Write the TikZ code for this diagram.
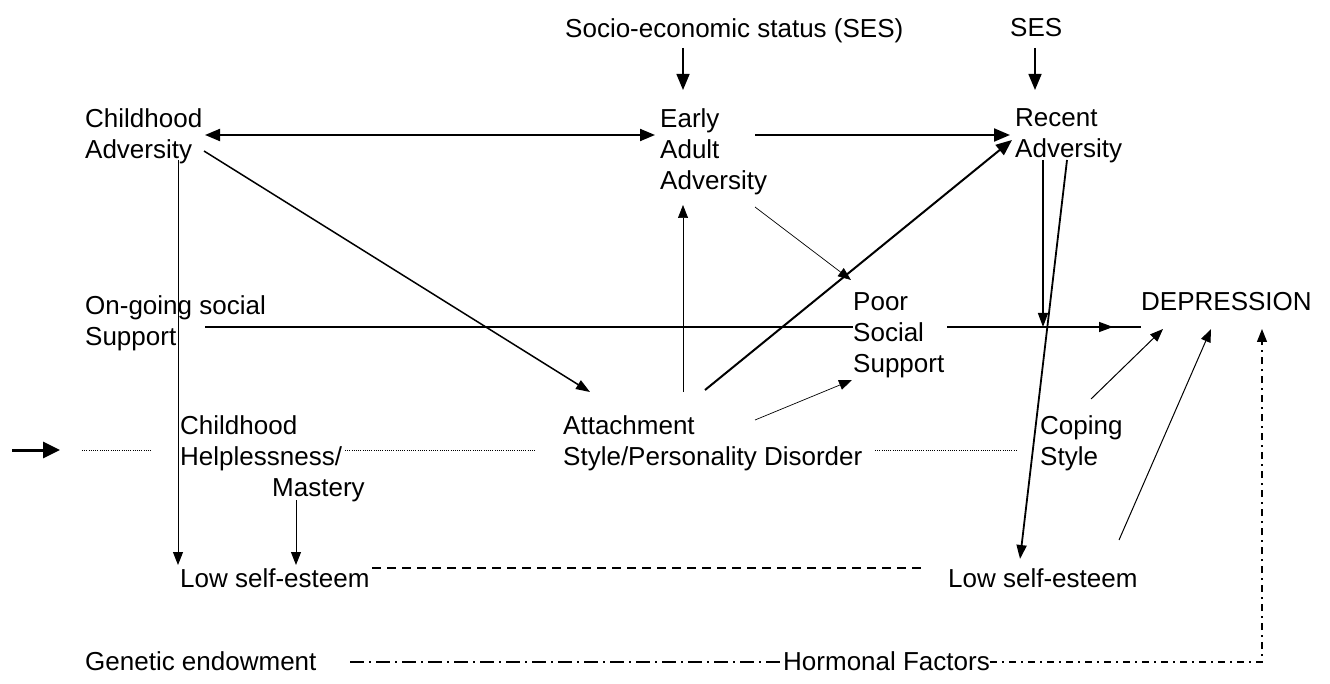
\documentclass[tikz,border=0pt]{standalone}
\usepackage{fontspec}
\setmainfont{Liberation Sans}
\usetikzlibrary{arrows.meta,calc}

\tikzset{
  lbl/.style={anchor=north west, inner sep=0pt, align=left,
              font=\fontsize{26pt}{31pt}\selectfont},
  big/.style={-{Triangle[length=16pt,width=13pt]}},
  med/.style={-{Triangle[length=14pt,width=10pt]}},
  sml/.style={-{Triangle[length=13pt,width=10pt]}},
  timeline/.style={line width=0.8pt, dash pattern=on 1pt off 1.2pt},
  dashlink/.style={line width=1.4pt, dash pattern=on 9pt off 6pt},
  dashdotA/.style={line width=1.3pt, dash pattern=on 14pt off 5pt on 2pt off 5pt},
  dashdotB/.style={line width=1.3pt, dash pattern=on 7pt off 5pt on 2pt off 5pt},
}

\begin{document}
\begin{tikzpicture}[x=1pt, y=-1pt]
\useasboundingbox (0,0) rectangle (1330,684);

% ---- factors ----
\node[lbl] (socio)    at (565,18)  {Socio-economic status (SES)};
\node[lbl] (ses2)     at (1010,18) {SES};
\node[lbl] (child)    at (85,108)  {Childhood\\Adversity};
\node[lbl] (early)    at (660,108) {Early\\Adult\\Adversity};
\node[lbl] (recent)   at (1015,108){Recent\\Adversity};
\node[lbl] (ongoing)  at (85,295)  {On-going social\\Support};
\node[lbl] (poor)     at (853,292) {Poor\\Social\\Support};
\node[lbl] (dep)      at (1141,292){DEPRESSION};
\node[lbl] (helpless) at (180,415) {Childhood\\Helplessness/\\\hspace*{92pt}Mastery};
\node[lbl] (attach)   at (563,415) {Attachment\\Style/Personality Disorder};
\node[lbl] (coping)   at (1040,415){Coping\\Style};
\node[lbl] (lowse1)   at (180,568) {Low self-esteem};
\node[lbl] (lowse2)   at (948,568) {Low self-esteem};
\node[lbl] (genetic)  at (85,651)  {Genetic endowment};
\node[lbl] (hormonal) at (783,651) {Hormonal Factors};

% ---- time line along the developmental row ----
\coordinate (tstart) at (12,450);
\coordinate (tdot)   at (82,450);
\draw[line width=3pt, -{Triangle[length=17pt,width=16pt]}] (tstart) -- ($(tstart)+(48,0)$);
\draw[timeline] (tdot) -- ($(helpless.north west)+(-28,35)$);
\draw[timeline] ($(helpless.north west)+(165,35)$) -- ($(attach.north west)+(-28,35)$);
\draw[timeline] ($(attach.north west)+(312,35)$) -- ($(coping.north west)+(-22,35)$);

% ---- socio-economic status ----
\draw[big, line width=1.5pt] ($(socio.north west)+(118,30)$) -- ($(early.north west)+(23,-18)$);
\draw[big, line width=1.5pt] ($(ses2.north west)+(25,30)$) -- ($(recent.north west)+(20,-18)$);

% ---- adversity chain ----
\draw[{Triangle[length=15pt,width=12pt]}-{Triangle[length=15pt,width=12pt]}, line width=2pt]
  ($(child.north west)+(120,27)$) -- ($(early.north west)+(-5,27)$);
\draw[big, line width=2pt] ($(early.north west)+(95,27)$) -- ($(recent.north west)+(-5,27)$);
\draw[med, line width=1.5pt] ($(child.north west)+(119,43)$) -- ($(attach.north west)+(27,-23)$);
\draw[sml, line width=1pt] ($(child.north west)+(93,52)$) -- ($(lowse1.north west)+(-2,-3)$);
\draw[sml, line width=1pt] ($(helpless.north west)+(116,85)$) -- ($(lowse1.north west)+(116,-3)$);

% ---- early adult adversity ----
\draw[sml, line width=0.7pt] ($(early.north west)+(95,99)$) -- ($(poor.north west)+(-2,-12)$);
\draw[sml, line width=0.7pt] ($(attach.north west)+(120,-23)$) -- ($(early.north west)+(23,97)$);
\draw[big, line width=2pt] ($(attach.north west)+(142,-25)$) -- ($(recent.north west)+(-3,32)$);
\draw[sml, line width=0.7pt] ($(attach.north west)+(192,5)$) -- ($(poor.north west)+(-1,88)$);

% ---- recent adversity ----
\draw[med, line width=1.5pt] ($(recent.north west)+(28,52)$) -- ($(poor.north west)+(190,35)$);
\draw[med, line width=1.8pt] ($(recent.north west)+(52,52)$) -- ($(lowse2.north west)+(72,-9)$);

% ---- social support to depression ----
\draw[line width=1.5pt] ($(ongoing.north west)+(120,32)$) -- ($(poor.north west)+(0,35)$);
\draw[line width=1.5pt] ($(poor.north west)+(94,35)$) -- ($(dep.north west)+(0,35)$);
\draw[med, line width=1.5pt] ($(poor.north west)+(94,35)$) -- ($(dep.north west)+(-28,35)$);

% ---- coping and self-esteem to depression ----
\draw[sml, line width=1pt] ($(coping.north west)+(51,-16)$) -- ($(dep.north west)+(22,37)$);
\draw[sml, line width=1pt] ($(lowse2.north west)+(171,-28)$) -- ($(dep.north west)+(70,37)$);
\draw[dashlink] ($(lowse1.north west)+(192,0)$) -- ($(lowse2.north west)+(-23,0)$);

% ---- biological factors ----
\draw[dashdotA] ($(genetic.north west)+(265,11)$) -- ($(hormonal.north west)+(0,11)$);
\coordinate (corner) at ($(hormonal.north west)+(479,11)$);
\draw[dashdotB, -{Triangle[length=13pt,width=10pt]}]
  ($(hormonal.north west)+(207,11)$) -- (corner) -- ($(dep.north west)+(121,37)$);
\end{tikzpicture}
\end{document}
